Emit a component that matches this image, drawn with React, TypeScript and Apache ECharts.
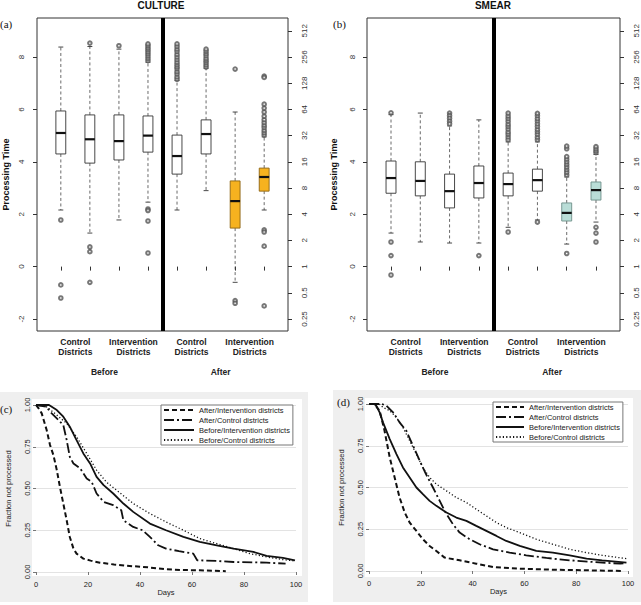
import React, { useEffect, useRef } from 'react';
import * as echarts from 'echarts';

// ---------- Box plot data (log2 of processing time) ----------
const boxPositions = [1, 2, 3, 4, 5, 6, 7, 8];
const groupLabels = ['Control\nDistricts', 'Intervention\nDistricts', 'Control\nDistricts', 'Intervention\nDistricts'];
const groupLabelPositions = [1.5, 3.5, 5.5, 7.5];
const phaseLabels = ['Before', 'After'];
const phasePositions = [2.5, 6.5];
const leftTicks = [-2, 0, 2, 4, 6, 8];
const rightTicks = [-2, -1, 0, 1, 2, 3, 4, 5, 6, 7, 8, 9];

// [low whisker, Q1, median, Q3, high whisker]
const cultureBoxes = [
  [2.16, 4.3, 5.1, 5.94, 8.38],
  [1.28, 3.95, 4.86, 5.79, 8.4],
  [1.78, 4.07, 4.79, 5.79, 8.3],
  [2.46, 4.37, 5.0, 5.75, 7.8],
  [2.16, 3.53, 4.22, 5.02, 7.1],
  [2.9, 4.3, 5.06, 5.6, 7.57],
  [-0.6, 1.47, 2.5, 3.27, 5.9],
  [2.16, 2.88, 3.42, 3.76, 4.95],
];
const cultureOutliers = [
  [1.78, -0.7, -1.2],
  [8.53, 0.75, 0.57, -0.6],
  [8.43],
  [7.86, 7.95, 8.04, 8.12, 8.2, 8.28, 8.35, 8.43, 8.5, 2.2, 2.14, 1.74, 0.52],
  [7.15, 7.24, 7.35, 7.44, 7.55, 7.63, 7.71, 7.8, 7.9, 8.0, 8.1, 8.21, 8.3, 8.4, 8.5],
  [7.62, 7.7, 7.79, 7.87, 7.95, 8.05, 8.13, 8.22, 8.3],
  [7.54, -1.3, -1.4],
  [7.27, 7.22, 5.02, 5.11, 5.2, 5.31, 5.4, 5.5, 5.61, 5.74, 5.9, 6.05, 6.2, 1.4, 1.32, 0.78, -1.5],
];

const smearBoxes = [
  [1.28, 2.8, 3.38, 4.03, 5.8],
  [0.94, 2.7, 3.27, 4.0, 5.86],
  [0.9, 2.24, 2.88, 3.53, 5.37],
  [0.9, 2.62, 3.19, 3.84, 5.6],
  [1.5, 2.7, 3.15, 3.57, 4.76],
  [1.78, 2.88, 3.3, 3.72, 4.76],
  [0.86, 1.74, 2.05, 2.43, 3.42],
  [1.7, 2.54, 2.92, 3.23, 4.28],
];
const smearOutliers = [
  [5.87, 0.94, 0.42, -0.32],
  [],
  [5.86, 5.76, 5.66, 5.55, 5.45],
  [0.42],
  [4.84, 4.95, 5.05, 5.14, 5.25, 5.35, 5.44, 5.55, 5.65, 5.75, 5.86, 1.32],
  [4.84, 4.94, 5.05, 5.15, 5.24, 5.35, 5.45, 5.56, 5.65, 5.76, 5.85, 1.7],
  [3.5, 3.6, 3.7, 3.8, 3.9, 4.0, 4.1, 4.2, 4.5, 4.6, 0.5],
  [4.35, 4.42, 4.5, 4.58, 1.5, 1.28, 0.94],
];

// ---------- Survival curves: [days, fraction not processed] ----------
const seriesNames = ['After/Intervention districts', 'After/Control districts', 'Before/Intervention districts', 'Before/Control districts'];

const cAfterInt = [[0, 1], [1, 0.98], [2.2, 0.95], [4.1, 0.85], [5.4, 0.76], [6.7, 0.7], [8, 0.61], [9.2, 0.51], [10.5, 0.41], [11.8, 0.31], [13, 0.21], [14.4, 0.14], [15.6, 0.11], [18.2, 0.08], [21, 0.068], [24.6, 0.056], [30, 0.045], [37, 0.035], [43, 0.028], [50, 0.016], [56, 0.012], [63, 0.01], [73, 0.005]];
const cAfterCtl = [[0, 1], [4, 0.99], [5.4, 0.96], [8, 0.92], [10.5, 0.88], [11.8, 0.79], [13, 0.69], [14.4, 0.65], [17, 0.62], [19.5, 0.56], [21.4, 0.54], [23.3, 0.47], [26, 0.42], [29.7, 0.4], [32.8, 0.37], [33.6, 0.31], [37.4, 0.27], [41, 0.25], [43.8, 0.21], [47, 0.16], [50, 0.14], [55, 0.125], [60.5, 0.11], [62, 0.07], [69.5, 0.066], [76, 0.06], [88.7, 0.056], [96, 0.05]];
const cBeforeInt = [[0, 1], [5, 1], [8, 0.97], [10.5, 0.93], [13, 0.87], [15.6, 0.79], [18.2, 0.71], [20.8, 0.65], [23.3, 0.57], [26, 0.52], [29.7, 0.47], [33.6, 0.41], [37.4, 0.36], [43.8, 0.29], [50, 0.25], [56.7, 0.21], [63, 0.18], [69.5, 0.16], [76, 0.14], [83.6, 0.12], [88.7, 0.096], [95, 0.084], [99.6, 0.07]];
const cBeforeCtl = [[0, 1], [4, 0.99], [8, 0.94], [11.8, 0.89], [15.6, 0.81], [19.5, 0.71], [23.3, 0.61], [27, 0.54], [31, 0.49], [37.4, 0.41], [43.8, 0.35], [50, 0.3], [56.7, 0.25], [63, 0.2], [69.5, 0.17], [76, 0.14], [82.3, 0.11], [88.7, 0.09], [95, 0.074], [99.6, 0.066]];

const dAfterInt = [[0, 1], [2, 1], [4.1, 0.96], [6, 0.84], [8, 0.68], [9.9, 0.56], [11.8, 0.44], [13.8, 0.35], [15.7, 0.29], [18.3, 0.24], [20.8, 0.19], [23.4, 0.15], [26, 0.12], [29.2, 0.08], [35, 0.064], [41.4, 0.044], [47.9, 0.024], [58, 0.014], [71, 0.008], [84, 0.004], [98, 0.0]];
const dAfterCtl = [[0, 1], [5, 1], [6.7, 0.99], [9.3, 0.95], [11.8, 0.89], [14.4, 0.84], [17, 0.75], [19.6, 0.66], [22, 0.58], [24.7, 0.5], [27.3, 0.42], [29.2, 0.36], [32.4, 0.28], [35, 0.23], [38.9, 0.19], [42.7, 0.16], [47.9, 0.13], [54.3, 0.11], [60.7, 0.094], [68.5, 0.078], [77.5, 0.064], [86.5, 0.054], [97, 0.044], [99.4, 0.048]];
const dBeforeInt = [[0, 1], [2, 1], [2.8, 0.99], [4.1, 0.95], [5.4, 0.89], [8, 0.79], [10.6, 0.7], [13.1, 0.62], [15.7, 0.56], [18.3, 0.5], [20.8, 0.46], [23.4, 0.42], [26, 0.39], [29.9, 0.35], [33.7, 0.32], [37.6, 0.3], [41.4, 0.27], [45.3, 0.24], [49.2, 0.21], [53, 0.18], [58.2, 0.15], [64.6, 0.12], [71, 0.11], [77.5, 0.094], [84, 0.074], [90, 0.064], [99.4, 0.05]];
const dBeforeCtl = [[0, 1], [4, 1], [5.4, 0.98], [8, 0.96], [10.6, 0.92], [13.1, 0.86], [15.7, 0.78], [18.3, 0.7], [20.8, 0.62], [23.4, 0.56], [26, 0.52], [29.9, 0.48], [33.7, 0.44], [37.6, 0.41], [41.4, 0.37], [45.3, 0.33], [49.2, 0.29], [53, 0.26], [58.2, 0.23], [64.6, 0.19], [71, 0.16], [77.5, 0.13], [84, 0.11], [90, 0.094], [99.4, 0.074]];

// ---------- styling constants ----------
const SANS = '"Liberation Sans", Arial, sans-serif';
const SERIF = '"Liberation Serif", "Times New Roman", serif';
const BOX_W = 0.34;

function makeBoxRender(highlightFill: string, highlightStroke: string) {
  return (params: any, api: any) => {
    const x = api.value(0);
    const lo = api.coord([x, api.value(1)]);
    const q1 = api.coord([x, api.value(2)]);
    const md = api.coord([x, api.value(3)]);
    const q3 = api.coord([x, api.value(4)]);
    const hi = api.coord([x, api.value(5)]);
    const w = api.size([BOX_W, 0])[0];
    const cx = lo[0];
    const hl = params.dataIndex >= 6;
    const fill = hl ? highlightFill : '#ffffff';
    const stroke = hl ? highlightStroke : '#333';
    const whisk = { stroke: '#444', lineWidth: 0.8, lineDash: [3, 2.5] };
    const cap = { stroke: '#333', lineWidth: 0.9 };
    return {
      type: 'group',
      children: [
        { type: 'line', shape: { x1: cx, y1: q3[1], x2: cx, y2: hi[1] }, style: whisk },
        { type: 'line', shape: { x1: cx, y1: q1[1], x2: cx, y2: lo[1] }, style: whisk },
        { type: 'line', shape: { x1: cx - w / 4, y1: hi[1], x2: cx + w / 4, y2: hi[1] }, style: cap },
        { type: 'line', shape: { x1: cx - w / 4, y1: lo[1], x2: cx + w / 4, y2: lo[1] }, style: cap },
        { type: 'rect', shape: { x: cx - w / 2, y: q3[1], width: w, height: q1[1] - q3[1] }, style: { fill, stroke, lineWidth: 0.9 } },
        { type: 'line', shape: { x1: cx - w / 2, y1: md[1], x2: cx + w / 2, y2: md[1] }, style: { stroke: '#111', lineWidth: 2.2 } },
      ],
    };
  };
}

function boxPanel(idx: number, boxes: number[][], outliers: number[][], hlFill: string, hlStroke: string) {
  const boxData = boxes.map((b, i) => [boxPositions[i], ...b]);
  const outData: number[][] = [];
  outliers.forEach((arr, i) => arr.forEach((v) => outData.push([boxPositions[i], v])));
  return [
    {
      type: 'custom',
      xAxisIndex: idx * 2,
      yAxisIndex: idx * 2,
      renderItem: makeBoxRender(hlFill, hlStroke),
      encode: { x: 0, y: [1, 2, 3, 4, 5] },
      data: boxData,
      z: 3,
    },
    {
      type: 'scatter',
      xAxisIndex: idx * 2,
      yAxisIndex: idx * 2,
      symbol: 'emptyCircle',
      symbolSize: 3.6,
      itemStyle: { color: '#555', borderWidth: 0.5 },
      data: outData,
      z: 4,
      markLine: {
        silent: true,
        symbol: ['none', 'none'],
        label: { show: false },
        lineStyle: { color: '#000', width: 4, type: 'solid' },
        data: [{ xAxis: 4.5 }],
      },
    },
  ];
}

function boxXAxes(grid: number) {
  return [
    {
      type: 'value', gridIndex: grid, min: 0.18, max: 8.82,
      axisLine: { show: false },
      splitLine: { show: false },
      axisTick: { show: true, length: 4, customValues: boxPositions, lineStyle: { color: '#333' } },
      axisLabel: {
        customValues: groupLabelPositions,
        formatter: (v: number) => groupLabels[Math.round((v - 1.5) / 2)],
        fontFamily: SANS, fontWeight: 'bold', fontSize: 8.5, lineHeight: 10, color: '#222', margin: 6,
      },
    },
    {
      type: 'value', gridIndex: grid, min: 0.18, max: 8.82, position: 'bottom',
      axisLine: { show: false }, axisTick: { show: false }, splitLine: { show: false },
      axisLabel: {
        customValues: phasePositions,
        formatter: (v: number) => phaseLabels[v < 4.5 ? 0 : 1],
        fontFamily: SANS, fontWeight: 'bold', fontSize: 8.5, color: '#222', margin: 36,
      },
    },
  ];
}

function boxYAxes(grid: number, nameGap: number, leftMargin: number) {
  const common = {
    type: 'value', gridIndex: grid, min: -2.458, max: 9.489,
    axisLine: { show: false }, splitLine: { show: false },
  };
  return [
    {
      ...common, position: 'left',
      name: 'Processing Time', nameLocation: 'middle', nameGap,
      nameTextStyle: { fontFamily: SANS, fontWeight: 'bold', fontSize: 9, color: '#111' },
      axisTick: { show: true, length: 4, customValues: leftTicks, lineStyle: { color: '#333' } },
      axisLabel: { customValues: leftTicks, rotate: 90, fontFamily: SANS, fontSize: 8, color: '#333', margin: leftMargin },
    },
    {
      ...common, position: 'right',
      axisTick: { show: true, length: 4, customValues: rightTicks, lineStyle: { color: '#333' } },
      axisLabel: {
        customValues: rightTicks, rotate: 90, fontFamily: SANS, fontSize: 8, color: '#333', margin: 12,
        formatter: (v: number) => String(Math.pow(2, v)),
      },
    },
  ];
}

function survXAxis(grid: number) {
  return {
    type: 'value', gridIndex: grid, min: 0, max: 100, interval: 20, offset: 3,
    name: 'Days', nameLocation: 'middle', nameGap: 13,
    nameTextStyle: { fontFamily: SANS, fontSize: 7.5, color: '#222' },
    axisLine: { show: false },
    axisTick: { show: true, length: 3, lineStyle: { color: '#777' } },
    axisLabel: { fontFamily: SANS, fontSize: 7.5, color: '#222', margin: 5 },
    splitLine: { show: false },
  };
}

function survYAxis(grid: number) {
  return {
    type: 'value', gridIndex: grid, min: 0, max: 1, interval: 0.25,
    name: 'Fraction not processed', nameLocation: 'middle', nameGap: 24,
    nameTextStyle: { fontFamily: SANS, fontSize: 7.5, color: '#222' },
    axisLine: { show: false },
    axisTick: { show: true, length: 3, lineStyle: { color: '#777' } },
    axisLabel: { rotate: 90, fontFamily: SANS, fontSize: 7.5, color: '#222', margin: 5, formatter: (v: number) => v.toFixed(2) },
    splitLine: { show: true, lineStyle: { color: '#E3E3E3', width: 1 } },
  };
}

const lineStyles: any[] = [
  { type: [5, 3], width: 2 },
  { type: [10, 3, 2, 3], width: 1.8 },
  { type: 'solid', width: 1.8 },
  { type: [1.2, 2.2], width: 1.3 },
];

function survSeries(axis: number, datasets: number[][][]) {
  return datasets.map((d, i) => ({
    type: 'line',
    name: seriesNames[i],
    xAxisIndex: axis,
    yAxisIndex: axis,
    data: d,
    symbol: 'none',
    showSymbol: false,
    itemStyle: { color: '#111' },
    lineStyle: { color: '#111', ...lineStyles[i] },
    z: 5,
  }));
}

function legendAt(left: number, top: number, itemWidth: number) {
  return {
    left, top, orient: 'vertical', selectedMode: false,
    itemWidth, itemHeight: 8, itemGap: 2,
    padding: [1, 3, 1, 2],
    borderColor: '#777', borderWidth: 1, backgroundColor: '#fff',
    itemStyle: { color: 'rgba(0,0,0,0)', borderColor: 'rgba(0,0,0,0)', borderWidth: 0, opacity: 0 },
    textStyle: { fontFamily: SANS, fontSize: 7.5, color: '#222' },
    data: seriesNames,
  };
}

function txt(text: string, x: number, y: number, font: any, align = 'left') {
  return {
    type: 'text', x, y, z: 10, silent: true,
    style: { text, fill: '#111', textAlign: align, textVerticalAlign: 'middle', align, verticalAlign: 'middle', ...font },
  };
}

export default function App() {
  const ref = useRef<HTMLDivElement>(null);
  useEffect(() => {
    if (!ref.current) return;
    const chart = echarts.init(ref.current, undefined, { renderer: 'svg' });
    const option: any = {
      animation: false,
      backgroundColor: '#ffffff',
      grid: [
        { left: 35, top: 18, width: 253, height: 313, show: true, borderColor: '#333', borderWidth: 1, backgroundColor: 'transparent' },
        { left: 367, top: 18, width: 253, height: 313, show: true, borderColor: '#333', borderWidth: 1, backgroundColor: 'transparent' },
        { left: 36, top: 405, width: 260, height: 167 },
        { left: 369, top: 404, width: 259, height: 167 },
      ],
      xAxis: [...boxXAxes(0), ...boxXAxes(1), survXAxis(2), survXAxis(3)],
      yAxis: [...boxYAxes(0, 27, 12), ...boxYAxes(1, 29, 11), survYAxis(2), survYAxis(3)],
      legend: [legendAt(161, 405, 30), legendAt(493, 402, 28)],
      series: [
        ...boxPanel(0, cultureBoxes, cultureOutliers, '#F6B21F', '#8C6414'),
        ...boxPanel(1, smearBoxes, smearOutliers, '#B9DDD7', '#6E8E89'),
        ...survSeries(4, [cAfterInt, cAfterCtl, cBeforeInt, cBeforeCtl]),
        ...survSeries(5, [dAfterInt, dAfterCtl, dBeforeInt, dBeforeCtl]),
      ],
      graphic: [
        { type: 'rect', z: -10, silent: true, shape: { x: 0, y: 392, width: 308, height: 210 }, style: { fill: '#EFEFEF' } },
        { type: 'rect', z: -9, silent: true, shape: { x: 32, y: 399, width: 270, height: 177 }, style: { fill: '#ffffff' } },
        { type: 'rect', z: -10, silent: true, shape: { x: 333, y: 390, width: 308, height: 212 }, style: { fill: '#EFEFEF' } },
        { type: 'rect', z: -9, silent: true, shape: { x: 365, y: 398, width: 268, height: 179 }, style: { fill: '#ffffff' } },
        txt('CULTURE', 161, 5, { fontFamily: SANS, fontWeight: 'bold', fontSize: 10 }, 'center'),
        txt('SMEAR', 493, 5, { fontFamily: SANS, fontWeight: 'bold', fontSize: 10 }, 'center'),
        txt('(a)', 0, 24, { fontFamily: SERIF, fontSize: 11 }),
        txt('(b)', 333, 24, { fontFamily: SERIF, fontSize: 11 }),
        txt('(c)', 0, 409, { fontFamily: SERIF, fontSize: 11 }),
        txt('(d)', 337, 402, { fontFamily: SERIF, fontSize: 11 }),
      ],
    };
    chart.setOption(option);
    return () => chart.dispose();
  }, []);
  return <div ref={ref} style={{ position: 'absolute', left: 0, top: 0, width: 641, height: 605 }} />;
}
